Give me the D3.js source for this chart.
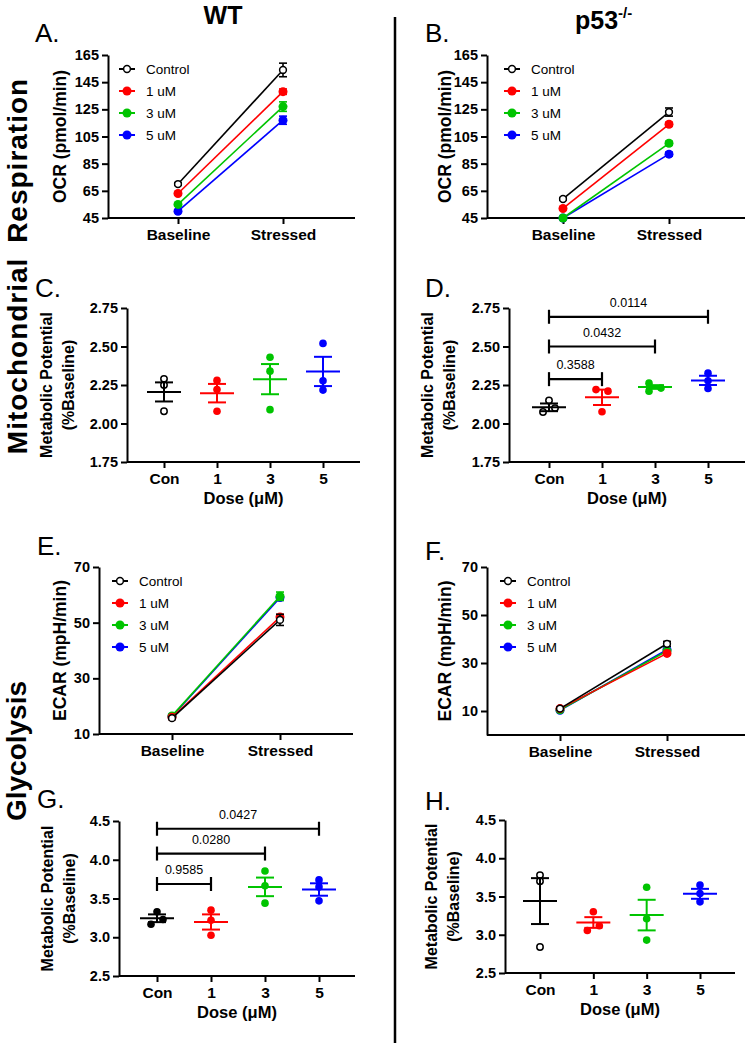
<!DOCTYPE html>
<html>
<head>
<meta charset="utf-8">
<script src="https://d3js.org/d3.v7.min.js"></script>
<style>
body { margin: 0; background: #fff; }
svg text { font-family: "Liberation Sans", Arial, Helvetica, sans-serif; }
</style>
</head>
<body>
<svg id="fig" width="745" height="1043"></svg>
<script>
// categories
var timepoints = ["Baseline", "Stressed"]
var doses = ["Con", "1", "3", "5"]
var seriesNames = ["Control", "1 uM", "3 uM", "5 uM"]
var seriesColors = ["#000000", "#ff0000", "#00c400", "#0000ff"]

// A / B : OCR, [baseline, stressed] per series
var ocrWT = [[70, 154], [63, 138], [55, 127], [50, 117]]
var ocrWTErr = [[1, 5], [1, 2], [1, 3.5], [1, 3]]
var ocrKO = [[59, 123], [52, 114], [45, 100], [45, 92]]
var ocrKOErr = [[1, 3], [1, 1.5], [1, 1.5], [1, 1.5]]

// E / F : ECAR
var ecarWT = [[15.7, 51], [16, 52], [16.5, 59.5], [16.3, 59]]
var ecarWTErr = [[0.5, 2], [0.5, 1], [0.5, 1.5], [0.5, 1]]
var ecarKO = [[11, 38], [11, 34], [10.5, 35], [10.3, 35.5]]
var ecarKOErr = [[0.5, 1], [0.5, 0.5], [0.5, 0.5], [0.5, 0.5]]

// C : metabolic potential WT (mito)
var mitoWTPoints = [[2.29, 2.25, 2.08], [2.28, 2.22, 2.08], [2.43, 2.34, 2.09], [2.52, 2.277, 2.217]]
var mitoWTMean = [2.205, 2.197, 2.288, 2.338]
var mitoWTSem = [0.062, 0.06, 0.098, 0.095]
var mitoWTSwarm = [[0, 0, 0], [0, 0, 0], [0, 0, 0], [0, 0, 0]]

// D : metabolic potential p53-/- (mito)
var mitoKOPoints = [[2.15, 2.075, 2.10], [2.22, 2.21, 2.076], [2.262, 2.23, 2.21], [2.327, 2.277, 2.227]]
var mitoKOMean = [2.105, 2.17, 2.237, 2.28]
var mitoKOSem = [0.025, 0.05, 0.012, 0.03]
var mitoKOSwarm = [[0, -1, 1], [-1, 1, 0], [-1, 1, -1], [0, 0, 0]]
var mitoKOStats = [["1", 2.288, "0.3588"], ["3", 2.50, "0.0432"], ["5", 2.693, "0.0114"]]

// G : metabolic potential WT (glyco)
var glyWTPoints = [[3.33, 3.167, 3.23], [3.35, 3.22, 3.025], [3.855, 3.665, 3.44], [3.74, 3.65, 3.47]]
var glyWTMean = [3.245, 3.197, 3.65, 3.616]
var glyWTSem = [0.05, 0.098, 0.12, 0.08]
var glyWTSwarm = [[0, -1, 1], [0, 0, 0], [0, 0, 0], [0, 0, 0]]
var glyWTStats = [["1", 3.687, "0.9585"], ["3", 4.08, "0.0280"], ["5", 4.40, "0.0427"]]

// H : metabolic potential p53-/- (glyco)
var glyKOPoints = [[3.78, 3.70, 2.84], [3.30, 3.056, 3.117], [3.62, 3.21, 2.93], [3.65, 3.54, 3.43]]
var glyKOMean = [3.44, 3.16, 3.257, 3.535]
var glyKOSem = [0.30, 0.07, 0.20, 0.065]
var glyKOSwarm = [[0, 0, 0], [0, -1, 1], [0, 0, 0], [0, 0, 0]]

var svg = d3.select("#fig")

function styleAxis(g, size) {
    g.selectAll("line").attr("stroke", "#000").attr("stroke-width", 2)
    g.selectAll("path").attr("stroke", "#000").attr("stroke-width", 2)
    g.selectAll("text")
        .attr("fill", "#000")
        .style("font-size", size + "px")
        .style("font-weight", "bold")
}

function drawAxes(p, x, y) {
    var ya = svg.append("g")
        .attr("transform", "translate(" + p.left + ",0)")
        .call(d3.axisLeft(y).tickValues(p.yTicks).tickFormat(d3.format(p.fmt)).tickSize(6).tickSizeOuter(0).tickPadding(3))
    styleAxis(ya, 14.5)

    var xa = svg.append("g")
        .attr("transform", "translate(0," + p.bottom + ")")
        .call(d3.axisBottom(x).tickSize(6).tickPadding(5))
    xa.select(".domain").remove()
    styleAxis(xa, 15.5)

    svg.append("line")
        .attr("x1", p.left).attr("x2", p.right)
        .attr("y1", p.bottom).attr("y2", p.bottom)
        .attr("stroke", "#000").attr("stroke-width", 2)
}

function panelLetter(txt, x, y) {
    svg.append("text")
        .attr("x", x).attr("y", y)
        .style("font-size", "26px")
        .text(txt)
}

function drawLinePanel(p, values, errs) {
    var x = d3.scalePoint().domain(timepoints).range([p.c0, p.c1])
    var y = d3.scaleLinear().domain(p.yDomain).range([p.bottom, p.top])
    drawAxes(p, x, y)

    svg.append("text")
        .attr("transform", "translate(" + p.ylabX + "," + ((p.top + p.bottom) / 2) + ") rotate(-90)")
        .attr("text-anchor", "middle")
        .attr("dy", "0.35em")
        .style("font-size", "17.5px")
        .style("font-weight", "bold")
        .text(p.ylabel)

    var line = d3.line()
        .x(function (d, i) { return x(timepoints[i]) })
        .y(function (d) { return y(d) })

    // last series first, so Control ends up on top
    for (var s = values.length - 1; s >= 0; s--) {
        var col = seriesColors[s]
        svg.append("path")
            .datum(values[s])
            .attr("d", line)
            .attr("fill", "none")
            .attr("stroke", col)
            .attr("stroke-width", 1.6)

        for (var t = 0; t < timepoints.length; t++) {
            var cx = x(timepoints[t])
            var v = values[s][t], e = errs[s][t]
            svg.append("line")
                .attr("x1", cx).attr("x2", cx)
                .attr("y1", y(v - e)).attr("y2", y(v + e))
                .attr("stroke", col).attr("stroke-width", 1.6)
            svg.append("line")
                .attr("x1", cx - 4).attr("x2", cx + 4)
                .attr("y1", y(v + e)).attr("y2", y(v + e))
                .attr("stroke", col).attr("stroke-width", 1.6)
            svg.append("line")
                .attr("x1", cx - 4).attr("x2", cx + 4)
                .attr("y1", y(v - e)).attr("y2", y(v - e))
                .attr("stroke", col).attr("stroke-width", 1.6)
            addMarker(cx, y(v), s)
        }
    }

    // legend
    for (var i = 0; i < seriesNames.length; i++) {
        var ly = p.legY + i * 22
        svg.append("line")
            .attr("x1", p.legX - 8).attr("x2", p.legX + 8)
            .attr("y1", ly).attr("y2", ly)
            .attr("stroke", seriesColors[i]).attr("stroke-width", 2)
        addMarker(p.legX, ly, i)
        svg.append("text")
            .attr("x", p.legX + 19).attr("y", ly)
            .attr("dy", "0.36em")
            .style("font-size", "13.5px")
            .text(seriesNames[i])
    }
}

function addMarker(cx, cy, s) {
    if (s == 0) {
        svg.append("circle")
            .attr("cx", cx).attr("cy", cy).attr("r", 3.4)
            .attr("fill", "#fff").attr("stroke", "#000").attr("stroke-width", 1.5)
    } else {
        svg.append("circle")
            .attr("cx", cx).attr("cy", cy).attr("r", 4.5)
            .attr("fill", seriesColors[s])
    }
}

function drawDotPanel(p, points, swarm, means, sems, stats, conFilled) {
    var x = d3.scalePoint().domain(doses).range([p.c0, p.c1])
    var y = d3.scaleLinear().domain(p.yDomain).range([p.bottom, p.top])
    drawAxes(p, x, y)

    var ylab = svg.append("text")
        .attr("transform", "translate(" + p.ylabX + "," + ((p.top + p.bottom) / 2) + ") rotate(-90)")
        .attr("text-anchor", "middle")
        .style("font-size", "16px")
        .style("font-weight", "bold")
    ylab.append("tspan").attr("x", 0).attr("y", 0).text("Metabolic Potential")
    ylab.append("tspan").attr("x", 0).attr("y", 22).text("(%Baseline)")

    svg.append("text")
        .attr("x", (p.left + p.right) / 2)
        .attr("y", p.bottom + 42)
        .attr("text-anchor", "middle")
        .style("font-size", "16.5px")
        .style("font-weight", "bold")
        .text("Dose (\u03bcM)")

    for (var k = 0; k < doses.length; k++) {
        var cx = x(doses[k])
        var col = seriesColors[k]
        for (var j = 0; j < points[k].length; j++) {
            var px = cx + swarm[k][j] * 6
            var py = y(points[k][j])
            if (k == 0 && !conFilled) {
                svg.append("circle").attr("cx", px).attr("cy", py).attr("r", 3.2)
                    .attr("fill", "#fff").attr("stroke", "#000").attr("stroke-width", 1.5)
            } else {
                svg.append("circle").attr("cx", px).attr("cy", py).attr("r", 3.8)
                    .attr("fill", col)
            }
        }
        var m = means[k], e = sems[k]
        svg.append("line")
            .attr("x1", cx - 17).attr("x2", cx + 17)
            .attr("y1", y(m)).attr("y2", y(m))
            .attr("stroke", col).attr("stroke-width", 2)
        svg.append("line")
            .attr("x1", cx).attr("x2", cx)
            .attr("y1", y(m - e)).attr("y2", y(m + e))
            .attr("stroke", col).attr("stroke-width", 2)
        svg.append("line")
            .attr("x1", cx - 9).attr("x2", cx + 9)
            .attr("y1", y(m + e)).attr("y2", y(m + e))
            .attr("stroke", col).attr("stroke-width", 2)
        svg.append("line")
            .attr("x1", cx - 9).attr("x2", cx + 9)
            .attr("y1", y(m - e)).attr("y2", y(m - e))
            .attr("stroke", col).attr("stroke-width", 2)
    }

    if (stats) {
        stats.forEach(function (d) {
            var xa = x(doses[0]), xb = x(d[0]), yy = y(d[1])
            var br = svg.append("g").attr("stroke", "#000").attr("stroke-width", 2.2)
            br.append("line").attr("x1", xa).attr("x2", xb).attr("y1", yy).attr("y2", yy)
            br.append("line").attr("x1", xa).attr("x2", xa).attr("y1", yy - 7).attr("y2", yy + 7)
            br.append("line").attr("x1", xb).attr("x2", xb).attr("y1", yy - 7).attr("y2", yy + 7)
            svg.append("text")
                .attr("x", (xa + xb) / 2).attr("y", yy - 10)
                .attr("text-anchor", "middle")
                .style("font-size", "12.5px")
                .text(d[2])
        })
    }
}

// headers
svg.append("text").attr("x", 223).attr("y", 24).attr("text-anchor", "middle")
    .style("font-size", "25px").style("font-weight", "bold").text("WT")
var p53 = svg.append("text").attr("x", 575).attr("y", 29)
    .style("font-size", "25px").style("font-weight", "bold")
p53.append("tspan").text("p53")
p53.append("tspan").attr("dy", -11).style("font-size", "15px").text("-/-")

svg.append("line").attr("x1", 395).attr("x2", 395).attr("y1", 17).attr("y2", 1043)
    .attr("stroke", "#000").attr("stroke-width", 2.5)

svg.append("text")
    .attr("transform", "translate(27,266) rotate(-90)")
    .attr("text-anchor", "middle")
    .style("font-size", "28px").style("font-weight", "bold")
    .style("letter-spacing", "1px").style("word-spacing", "6px")
    .text("Mitochondrial Respiration")
svg.append("text")
    .attr("transform", "translate(26,751) rotate(-90)")
    .attr("text-anchor", "middle")
    .style("font-size", "28px").style("font-weight", "bold")
    .text("Glycolysis")

panelLetter("A.", 35, 42)
panelLetter("B.", 425, 42)
panelLetter("C.", 35, 297)
panelLetter("D.", 425, 297)
panelLetter("E.", 37, 555)
panelLetter("F.", 425, 560)
panelLetter("G.", 37, 808)
panelLetter("H.", 425, 810)

var ocrTicks = [45, 65, 85, 105, 125, 145, 165]
var ecarTicks = [10, 30, 50, 70]
var mitoTicks = [1.75, 2.00, 2.25, 2.50, 2.75]
var glyTicks = [2.5, 3.0, 3.5, 4.0, 4.5]

drawLinePanel({left: 108, right: 355, top: 55, bottom: 218, c0: 178, c1: 283, yDomain: [45, 165], yTicks: ocrTicks, fmt: "d",
    ylabel: "OCR (pmol/min)", ylabX: 60, legX: 127, legY: 69}, ocrWT, ocrWTErr)
drawLinePanel({left: 487, right: 745, top: 55, bottom: 218, c0: 563, c1: 669, yDomain: [45, 165], yTicks: ocrTicks, fmt: "d",
    ylabel: "OCR (pmol/min)", ylabX: 445, legX: 512, legY: 69}, ocrKO, ocrKOErr)
drawDotPanel({left: 127, right: 360, top: 308, bottom: 462, c0: 164, c1: 323, yDomain: [1.75, 2.75], yTicks: mitoTicks, fmt: ".2f",
    ylabX: 52}, mitoWTPoints, mitoWTSwarm, mitoWTMean, mitoWTSem, null, false)
drawDotPanel({left: 509, right: 745, top: 308, bottom: 462, c0: 549, c1: 708, yDomain: [1.75, 2.75], yTicks: mitoTicks, fmt: ".2f",
    ylabX: 433}, mitoKOPoints, mitoKOSwarm, mitoKOMean, mitoKOSem, mitoKOStats, false)
drawLinePanel({left: 99, right: 353, top: 567, bottom: 734, c0: 172, c1: 280, yDomain: [10, 70], yTicks: ecarTicks, fmt: "d",
    ylabel: "ECAR (mpH/min)", ylabX: 60, legX: 120, legY: 581}, ecarWT, ecarWTErr)
drawLinePanel({left: 487, right: 745, top: 567, bottom: 735, c0: 560, c1: 667, yDomain: [0, 70], yTicks: ecarTicks, fmt: "d",
    ylabel: "ECAR (mpH/min)", ylabX: 445, legX: 508, legY: 581}, ecarKO, ecarKOErr)
drawDotPanel({left: 119, right: 355, top: 821, bottom: 976, c0: 157, c1: 319, yDomain: [2.5, 4.5], yTicks: glyTicks, fmt: ".1f",
    ylabX: 53}, glyWTPoints, glyWTSwarm, glyWTMean, glyWTSem, glyWTStats, true)
drawDotPanel({left: 505, right: 735, top: 820, bottom: 973, c0: 540, c1: 700, yDomain: [2.5, 4.5], yTicks: glyTicks, fmt: ".1f",
    ylabX: 437}, glyKOPoints, glyKOSwarm, glyKOMean, glyKOSem, null, false)
</script>
</body>
</html>
